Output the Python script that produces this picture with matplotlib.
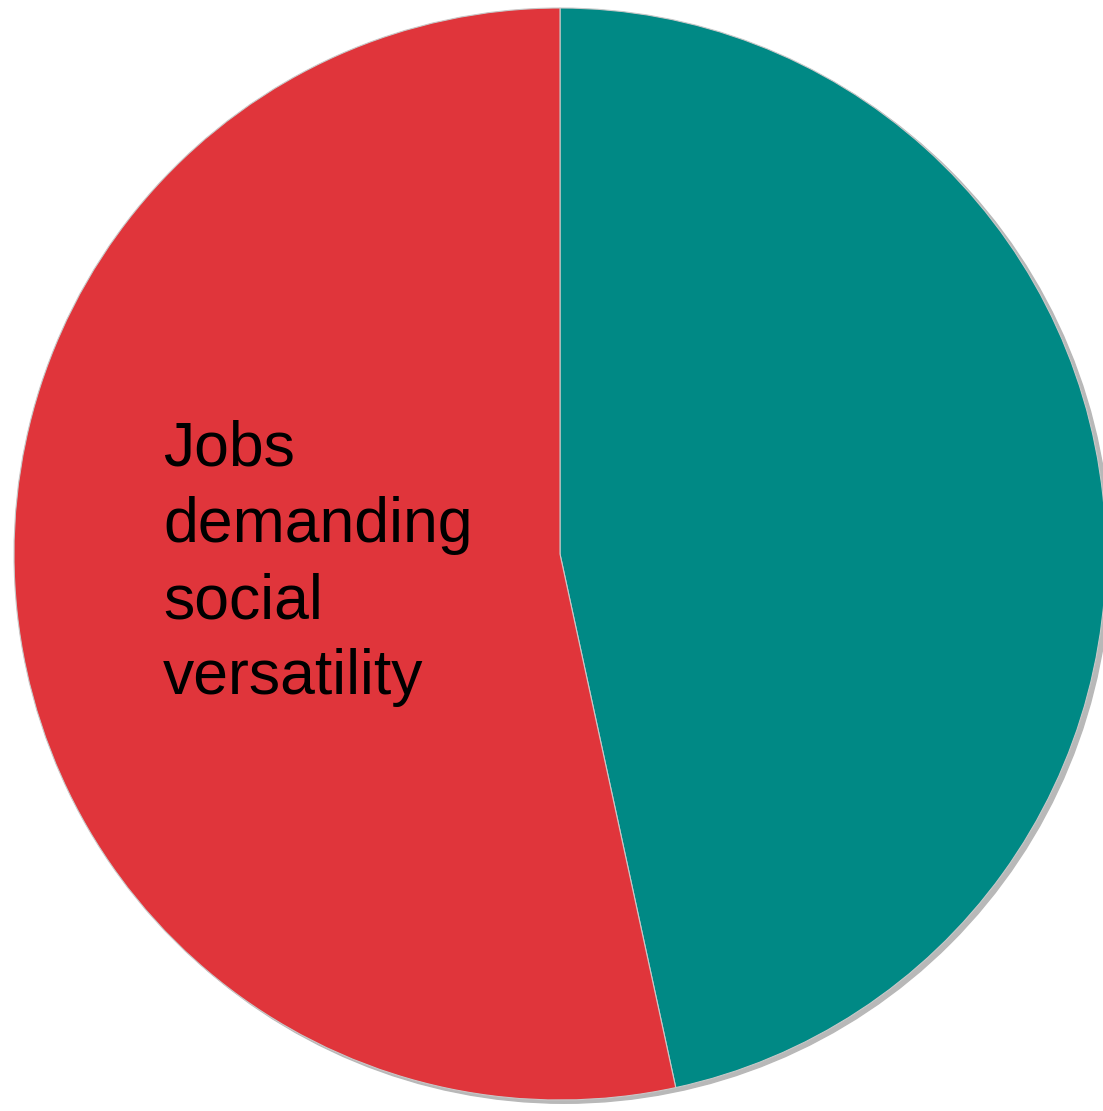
import matplotlib.pyplot as plt
from matplotlib.patches import Circle

# Slice shares (teal first, drawn clockwise from 12 o'clock)
labels = ["Other jobs", "Jobs\ndemanding\nsocial\nversatility"]
shares = [46.6, 53.4]
colors = ["#008985", "#E0353B"]

W, H = 1103, 1111
cx, cy, r = 560, 554, 546

fig = plt.figure(figsize=(W / 100, H / 100), dpi=100)
ax = fig.add_axes([0, 0, 1, 1])

# Soft shadow behind the pie
ax.add_patch(Circle((0.008, -0.006), 1.0, color="#b8b8b8", zorder=0))

ax.pie(
    shares,
    colors=colors,
    startangle=90,
    counterclock=False,
    radius=1.0,
    wedgeprops=dict(edgecolor="#c8c8c8", linewidth=0.8),
)

# pie() resets the limits, so set them afterwards
ax.set_xlim(-cx / r, (W - cx) / r)
ax.set_ylim(-(H - cy) / r, cy / r)
ax.set_aspect("equal")
ax.axis("off")

ax.text(
    (163 - cx) / r,
    (cy - 420) / r,
    labels[1],
    ha="left",
    va="top",
    fontsize=45,
    family="Liberation Sans",
    linespacing=1.37,
    color="black",
)

fig.savefig("out.png", dpi=100)
